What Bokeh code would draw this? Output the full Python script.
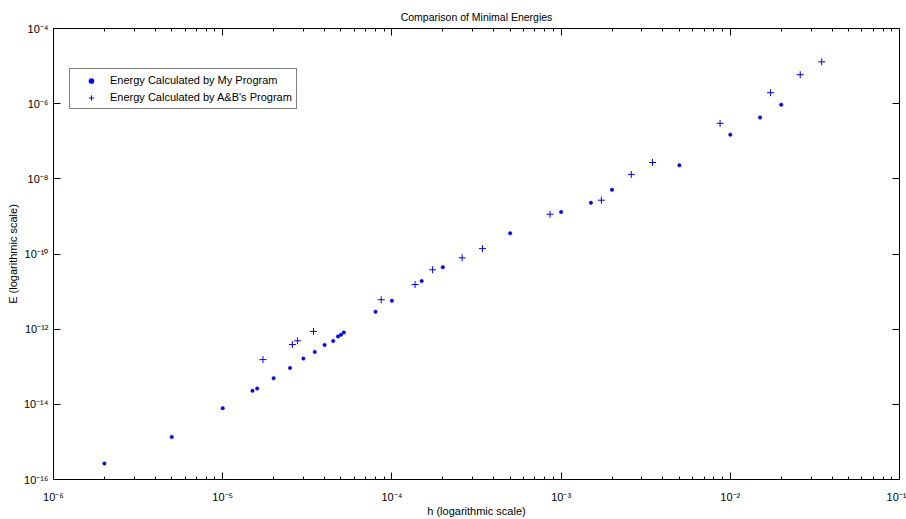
from bokeh.plotting import figure
from bokeh.models import (LogAxis, FixedTicker, CustomJSTickFormatter,
                          Legend, LegendItem, Range1d)
from bokeh.embed import file_html
from bokeh.resources import INLINE

# ---------------- data ----------------
h_mine = [2e-6, 5e-6, 1e-5, 1.5e-5, 1.6e-5, 2e-5, 2.5e-5, 3e-5, 3.5e-5, 4e-5,
          4.5e-5, 4.8e-5, 5e-5, 5.2e-5, 8e-5, 1e-4, 1.5e-4, 2e-4, 5e-4, 1e-3,
          1.5e-3, 2e-3, 5e-3, 1e-2, 1.5e-2, 2e-2]
E_mine = [2.66e-16, 1.35e-15, 7.9e-15, 2.3e-14, 2.64e-14, 4.95e-14, 9.3e-14,
          1.65e-13, 2.48e-13, 3.8e-13, 4.87e-13, 6.4e-13, 7.1e-13, 8.2e-13,
          2.9e-12, 5.7e-12, 1.9e-11, 4.47e-11, 3.56e-10, 1.31e-9, 2.3e-9,
          5.1e-9, 2.3e-8, 1.5e-7, 4.3e-7, 9.4e-7]

h_ab = [1.73e-5, 2.58e-5, 2.77e-5, 3.44e-5, 8.65e-5, 1.37e-4, 1.74e-4, 2.6e-4,
        3.43e-4, 8.6e-4, 1.73e-3, 2.6e-3, 3.47e-3, 8.7e-3, 1.73e-2, 2.59e-2,
        3.47e-2]
E_ab = [1.55e-13, 3.9e-13, 4.9e-13, 8.7e-13, 6.07e-12, 1.54e-11, 3.8e-11,
        7.9e-11, 1.39e-10, 1.14e-9, 2.7e-9, 1.31e-8, 2.72e-8, 3.0e-7, 1.96e-6,
        5.9e-6, 1.3e-5]

x_ticks = [1e-6, 1e-5, 1e-4, 1e-3, 1e-2, 1e-1]
x_tick_labels = ["10\u207b\u2076", "10\u207b\u2075", "10\u207b\u2074",
                 "10\u207b\u00b3", "10\u207b\u00b2", "10\u207b\u00b9"]
y_ticks = [1e-16, 1e-14, 1e-12, 1e-10, 1e-8, 1e-6, 1e-4]
y_tick_labels = ["10\u207b\u00b9\u2076", "10\u207b\u00b9\u2074", "10\u207b\u00b9\u00b2",
                 "10\u207b\u00b9\u2070", "10\u207b\u2078", "10\u207b\u2076",
                 "10\u207b\u2074"]
x_minor = [2e-6, 3e-6, 4e-6, 5e-6, 6e-6, 7e-6, 8e-6, 9e-6,
           2e-5, 3e-5, 4e-5, 5e-5, 6e-5, 7e-5, 8e-5, 9e-5,
           2e-4, 3e-4, 4e-4, 5e-4, 6e-4, 7e-4, 8e-4, 9e-4,
           2e-3, 3e-3, 4e-3, 5e-3, 6e-3, 7e-3, 8e-3, 9e-3,
           2e-2, 3e-2, 4e-2, 5e-2, 6e-2, 7e-2, 8e-2, 9e-2]

title_text = "Comparison of Minimal Energies"
x_label = "h (logarithmic scale)"
y_label = "E (logarithmic scale)"
series_labels = ["Energy Calculated by My Program", "Energy Calculated by A&B's Program"]

FONT = "Liberation Sans"

p = figure(x_axis_type="log", y_axis_type="log",
           x_range=Range1d(1e-6, 1e-1), y_range=Range1d(1e-16, 1e-4),
           width=906, height=519,
           min_border_left=53, min_border_top=28, min_border_right=7,
           min_border_bottom=40,
           output_backend="svg", toolbar_location=None, title=title_text)

p.background_fill_color = "white"
p.border_fill_color = "white"
p.outline_line_color = "black"
p.grid.visible = False

p.title.text_font = FONT
p.title.text_font_size = "10.5px"
p.title.text_font_style = "normal"
p.title.text_color = "black"
p.title.align = "center"
p.title.standoff = 12

bottom_axis = p.below[0]
left_axis = p.left[0]

LABEL_CODE = """
let best = -1, dist = 1e9;
for (let i = 0; i < vals.length; i++) {
  const d = Math.abs(Math.log10(vals[i]) - Math.log10(tick));
  if (d < dist) { dist = d; best = i; }
}
return (show && dist < 1e-6) ? labs[best] : '';
"""


def style_axis(ax, ticks, labels, minor, show):
    ax.ticker = FixedTicker(ticks=ticks, minor_ticks=minor)
    ax.formatter = CustomJSTickFormatter(args=dict(vals=ticks, labs=labels, show=show),
                                         code=LABEL_CODE)
    if not show:
        ax.major_label_text_font_size = "0px"
        ax.major_label_standoff = 0
        ax.axis_label_standoff = 0
    else:
        ax.major_label_text_font = FONT
        ax.major_label_text_font_size = "11px"
        ax.major_label_text_color = "black"
    ax.major_tick_in = 7
    ax.major_tick_out = 0
    ax.minor_tick_in = 3
    ax.minor_tick_out = 0
    ax.axis_line_color = "black"
    ax.major_tick_line_color = "black"
    ax.minor_tick_line_color = "black" if minor else None


style_axis(bottom_axis, x_ticks, x_tick_labels, x_minor, True)
style_axis(left_axis, y_ticks, y_tick_labels, [], True)
bottom_axis.major_label_standoff = 11
left_axis.major_label_standoff = 5

# box axes on top and right: ticks only, pinned to the frame edges
top_axis = LogAxis(fixed_location=1e-4)
style_axis(top_axis, x_ticks, x_tick_labels, x_minor, False)
right_axis = LogAxis(fixed_location=1e-1)
style_axis(right_axis, y_ticks, y_tick_labels, [], False)

bottom_axis.axis_label = x_label
bottom_axis.axis_label_standoff = -1
left_axis.axis_label = y_label
left_axis.axis_label_standoff = 2
for ax in (bottom_axis, left_axis):
    ax.axis_label_text_font = FONT
    ax.axis_label_text_font_size = "11px"
    ax.axis_label_text_font_style = "normal"
    ax.axis_label_text_color = "black"

p.add_layout(top_axis, "above")
p.add_layout(right_axis, "right")

r_mine = p.scatter(h_mine, E_mine, marker="circle", size=3.5,
                   fill_color="#0000ff", line_color="#0000ff", line_width=0.5)
r_ab = p.scatter(h_ab, E_ab, marker="cross", size=7,
                 line_color="#0000ff", line_width=1)

legend = Legend(items=[LegendItem(label=series_labels[0], renderers=[r_mine]),
                       LegendItem(label=series_labels[1], renderers=[r_ab])],
                location=(16, 370), margin=0, padding=4, spacing=3,
                glyph_width=34, glyph_height=13, label_height=14,
                label_standoff=2, label_text_font=FONT,
                label_text_font_size="11px", label_text_color="black",
                border_line_color="black", border_line_width=1,
                background_fill_color="white", background_fill_alpha=1)
p.add_layout(legend)

open("out.html", "w").write(file_html(p, INLINE))
